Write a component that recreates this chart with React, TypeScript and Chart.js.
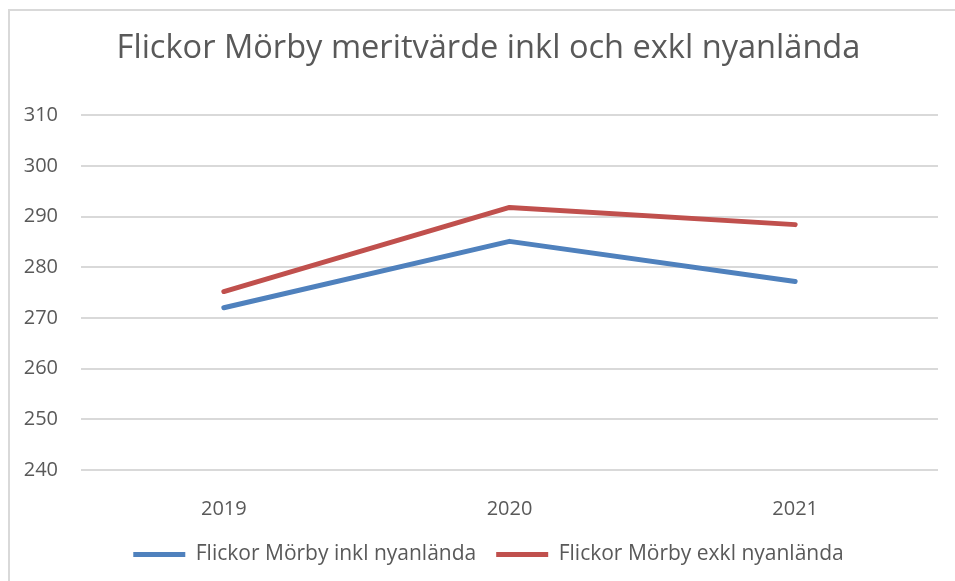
import React, { useEffect, useRef } from "react";
import { Chart, registerables } from "chart.js";

Chart.register(...registerables);

const TITLE = "Flickor Mörby meritvärde inkl och exkl nyanlända";
const categories = ["2019", "2020", "2021"];
const seriesInklLabel = "Flickor Mörby inkl nyanlända";
const seriesExklLabel = "Flickor Mörby exkl nyanlända";
const seriesInkl = [272.0, 285.1, 277.2];
const seriesExkl = [275.2, 291.8, 288.4];
const yMin = 240;
const yMax = 310;
const yStep = 10;

const TEXT = "#595959";
const FONT = "'Open Sans', sans-serif";

const borderPlugin = {
  id: "frameBorder",
  afterLayout(chart: any) {
    if (chart.titleBlock) chart.titleBlock.left = 39;
    if (chart.legend) chart.legend.left = 39;
  },
  beforeDraw(chart: any) {
    const ctx = chart.ctx;
    ctx.save();
    ctx.strokeStyle = "#D9D9D9";
    ctx.lineWidth = 2;
    ctx.beginPath();
    ctx.moveTo(9, chart.height);
    ctx.lineTo(9, 10);
    ctx.lineTo(chart.width, 10);
    ctx.stroke();
    ctx.restore();
  },
};

export default function App() {
  const ref = useRef<HTMLCanvasElement>(null);
  useEffect(() => {
    if (!ref.current) return;
    const chart = new Chart(ref.current, {
      type: "line",
      data: {
        labels: categories,
        datasets: [
          {
            label: seriesInklLabel,
            data: seriesInkl,
            borderColor: "#4F81BD",
            backgroundColor: "#4F81BD",
            borderWidth: 5,
            borderCapStyle: "round",
            borderJoinStyle: "round",
            pointRadius: 0,
            pointHoverRadius: 0,
            tension: 0,
          },
          {
            label: seriesExklLabel,
            data: seriesExkl,
            borderColor: "#C0504D",
            backgroundColor: "#C0504D",
            borderWidth: 5,
            borderCapStyle: "round",
            borderJoinStyle: "round",
            pointRadius: 0,
            pointHoverRadius: 0,
            tension: 0,
          },
        ],
      },
      options: {
        animation: false,
        responsive: false,
        layout: { padding: { top: 0, left: 0, right: 17, bottom: 6 } },
        plugins: {
          title: {
            display: true,
            text: TITLE,
            color: TEXT,
            font: { family: FONT, size: 32.6, weight: "normal" },
            padding: { top: 29, bottom: 47 },
          },
          legend: {
            position: "bottom",
            labels: {
              color: TEXT,
              font: { family: FONT, size: 21 },
              usePointStyle: true,
              pointStyle: "line",
              pointStyleWidth: 52,
              boxHeight: 21,
              padding: 20,
            },
          },
          tooltip: { enabled: false },
        },
        scales: {
          x: {
            offset: true,
            grid: { display: false, drawTicks: false },
            border: { display: false },
            ticks: {
              color: TEXT,
              font: { family: FONT, size: 20 },
              padding: 27,
            },
            afterFit(scale: any) {
              scale.height = 54;
            },
          },
          y: {
            min: yMin,
            max: yMax,
            grid: { color: "#D9D9D9", lineWidth: 2, drawTicks: false },
            border: { display: false },
            ticks: {
              stepSize: yStep,
              color: TEXT,
              font: { family: FONT, size: 20 },
              padding: 23,
            },
            afterFit(scale: any) {
              scale.width = 81;
            },
          },
        },
      },
      plugins: [borderPlugin],
    });
    return () => chart.destroy();
  }, []);
  return (
    <div style={{ position: "fixed", left: 0, top: 0, width: 955, height: 581, background: "#fff" }}>
      <canvas ref={ref} width={955} height={581} />
    </div>
  );
}
